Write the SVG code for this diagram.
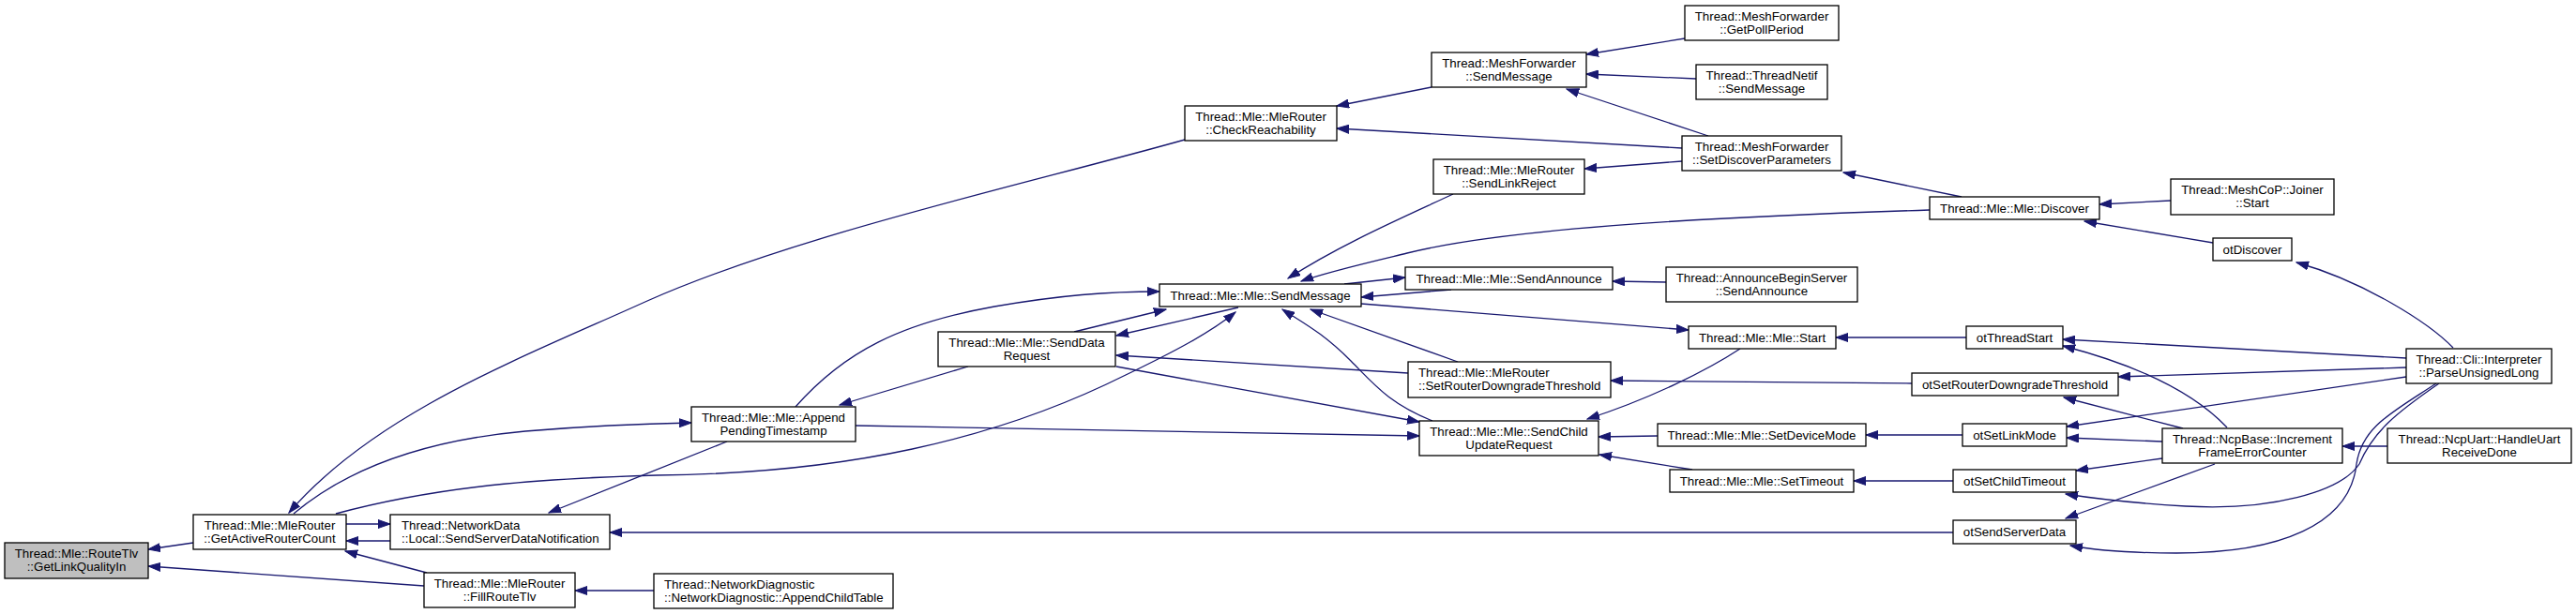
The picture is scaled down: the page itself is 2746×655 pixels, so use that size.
<svg xmlns="http://www.w3.org/2000/svg" width="2746" height="655" viewBox="0 0 2746 655">
<defs>
<marker id="a" markerUnits="userSpaceOnUse" markerWidth="14" markerHeight="10" refX="13" refY="5" viewBox="0 0 14 10" orient="auto">
<path d="M0,0.5 L13,5 L0,9.5 z" fill="#191970" stroke="#191970" stroke-width="1"/>
</marker>
<style>
.n rect{fill:#fff;stroke:#000;stroke-width:1.3}
.n.root rect{fill:#bfbfbf}
text{font-family:"Liberation Sans",Arial,Helvetica,sans-serif;font-size:13.3px;fill:#000}
.c{text-anchor:middle}
#edges path{fill:none;stroke:#191970;stroke-width:1.3;marker-end:url(#a)}
</style>
</defs>
<rect width="2746" height="655" fill="#fff"/>
<g id="edges">
<path d="M206,579 L158,586"/>
<path d="M452,625 L158,604"/>
<path d="M1263,149 C1100,195 850,250 690,321 C560,380 400,440 308,547"/>
<path d="M313,548 C370,500 450,470 560,460 C620,455 680,452 737,451"/>
<path d="M358,548 C480,515 600,510 700,507 C900,505 1060,470 1200,400 C1250,376 1290,355 1317,333"/>
<path d="M775,471 L585,547"/>
<path d="M369,559 L416,559"/>
<path d="M416,577 L369,577"/>
<path d="M455,611 L368,588"/>
<path d="M2082,568 L650,568"/>
<path d="M697,630 L613,630"/>
<path d="M848,434 C900,375 960,345 1060,327 C1130,315 1180,311 1236,311"/>
<path d="M1032,391 L895,432"/>
<path d="M1145,354 L1243,330"/>
<path d="M1320,328 L1190,358"/>
<path d="M1501,398 L1190,379"/>
<path d="M1190,391 L1513,450"/>
<path d="M912,454 L1513,465"/>
<path d="M1527,449 C1480,430 1465,410 1440,385 C1410,355 1390,345 1367,330"/>
<path d="M1554,386 L1397,330"/>
<path d="M1549,207 C1500,230 1430,260 1373,297"/>
<path d="M2057,224 C1800,232 1600,245 1500,270 C1450,282 1415,290 1387,300"/>
<path d="M1433,303 L1498,296"/>
<path d="M1547,309 L1451,317"/>
<path d="M1776,301 L1719,300"/>
<path d="M1451,324 L1800,352"/>
<path d="M1855,372 C1820,395 1760,425 1692,447"/>
<path d="M1767,465 L1704,466"/>
<path d="M1804,501 L1705,485"/>
<path d="M2096,360 L1957,360"/>
<path d="M2038,409 L1717,406"/>
<path d="M2092,464 L1989,464"/>
<path d="M2082,513 L1976,513"/>
<path d="M2565,382 L2199,362"/>
<path d="M2374,456 C2340,420 2280,390 2199,369"/>
<path d="M2565,392 L2258,402"/>
<path d="M2327,457 L2200,424"/>
<path d="M2565,402 L2203,455"/>
<path d="M2305,471 L2203,467"/>
<path d="M2305,489 L2213,502"/>
<path d="M2361,495 L2202,553"/>
<path d="M2600,409 C2555,440 2530,460 2515,495 C2495,525 2420,545 2330,540 C2280,537 2240,533 2202,527"/>
<path d="M2597,409 C2550,440 2518,455 2512,495 C2505,560 2430,590 2320,590 C2280,590 2240,588 2207,582"/>
<path d="M2545,476 L2497,476"/>
<path d="M2615,371 C2590,345 2520,300 2448,280"/>
<path d="M2314,214 L2238,218"/>
<path d="M2359,259 L2222,236"/>
<path d="M2091,210 L1965,184"/>
<path d="M1821,145 L1670,95"/>
<path d="M1793,158 L1425,137"/>
<path d="M1793,172 L1689,180"/>
<path d="M1526,93 L1425,113"/>
<path d="M1796,41 L1691,58"/>
<path d="M1808,84 L1691,79"/>
</g>
<g id="n1" class="n root"><rect x="5" y="579" width="153" height="38"/><text class="c" x="81.5" y="595">Thread::Mle::RouteTlv</text><text class="c" x="81.5" y="609">::GetLinkQualityIn</text></g>
<g id="n2" class="n"><rect x="206" y="549" width="163" height="37"/><text class="c" x="287.5" y="565">Thread::Mle::MleRouter</text><text class="c" x="287.5" y="579">::GetActiveRouterCount</text></g>
<g id="n3" class="n"><rect x="416" y="549" width="234" height="37"/><text x="428" y="565">Thread::NetworkData</text><text x="428" y="579">::Local::SendServerDataNotification</text></g>
<g id="n4" class="n"><rect x="452" y="611" width="161" height="37"/><text class="c" x="532.5" y="627">Thread::Mle::MleRouter</text><text class="c" x="532.5" y="641">::FillRouteTlv</text></g>
<g id="n5" class="n"><rect x="697" y="612" width="255" height="37"/><text x="708" y="628">Thread::NetworkDiagnostic</text><text x="708" y="642">::NetworkDiagnostic::AppendChildTable</text></g>
<g id="n6" class="n"><rect x="737" y="434" width="175" height="37"/><text class="c" x="824.5" y="450">Thread::Mle::Mle::Append</text><text class="c" x="824.5" y="464">PendingTimestamp</text></g>
<g id="n7" class="n"><rect x="1000" y="354" width="189" height="37"/><text class="c" x="1094.5" y="370">Thread::Mle::Mle::SendData</text><text class="c" x="1094.5" y="384">Request</text></g>
<g id="n8" class="n"><rect x="1263" y="113" width="162" height="37"/><text class="c" x="1344" y="129">Thread::Mle::MleRouter</text><text class="c" x="1344" y="143">::CheckReachability</text></g>
<g id="n9" class="n"><rect x="1236" y="303" width="215" height="24"/><text class="c" x="1343.5" y="320">Thread::Mle::Mle::SendMessage</text></g>
<g id="n10" class="n"><rect x="1526" y="56" width="165" height="37"/><text class="c" x="1608.5" y="72">Thread::MeshForwarder</text><text class="c" x="1608.5" y="86">::SendMessage</text></g>
<g id="n11" class="n"><rect x="1528" y="170" width="161" height="37"/><text class="c" x="1608.5" y="186">Thread::Mle::MleRouter</text><text class="c" x="1608.5" y="200">::SendLinkReject</text></g>
<g id="n12" class="n"><rect x="1498" y="285" width="221" height="24"/><text class="c" x="1608.5" y="302">Thread::Mle::Mle::SendAnnounce</text></g>
<g id="n13" class="n"><rect x="1501" y="386" width="216" height="38"/><text x="1512" y="402">Thread::Mle::MleRouter</text><text x="1512" y="416">::SetRouterDowngradeThreshold</text></g>
<g id="n14" class="n"><rect x="1513" y="449" width="191" height="37"/><text class="c" x="1608.5" y="465">Thread::Mle::Mle::SendChild</text><text class="c" x="1608.5" y="479">UpdateRequest</text></g>
<g id="n15" class="n"><rect x="1796" y="6" width="164" height="37"/><text class="c" x="1878" y="22">Thread::MeshForwarder</text><text class="c" x="1878" y="36">::GetPollPeriod</text></g>
<g id="n16" class="n"><rect x="1808" y="69" width="140" height="37"/><text class="c" x="1878" y="85">Thread::ThreadNetif</text><text class="c" x="1878" y="99">::SendMessage</text></g>
<g id="n17" class="n"><rect x="1793" y="145" width="170" height="37"/><text class="c" x="1878" y="161">Thread::MeshForwarder</text><text class="c" x="1878" y="175">::SetDiscoverParameters</text></g>
<g id="n18" class="n"><rect x="1776" y="285" width="204" height="37"/><text class="c" x="1878" y="301">Thread::AnnounceBeginServer</text><text class="c" x="1878" y="315">::SendAnnounce</text></g>
<g id="n19" class="n"><rect x="1800" y="348" width="157" height="24"/><text class="c" x="1878.5" y="365">Thread::Mle::Mle::Start</text></g>
<g id="n20" class="n"><rect x="1767" y="452" width="222" height="24"/><text class="c" x="1878" y="469">Thread::Mle::Mle::SetDeviceMode</text></g>
<g id="n21" class="n"><rect x="1780" y="501" width="196" height="24"/><text class="c" x="1878" y="518">Thread::Mle::Mle::SetTimeout</text></g>
<g id="n22" class="n"><rect x="2057" y="210" width="181" height="24"/><text class="c" x="2147.5" y="227">Thread::Mle::Mle::Discover</text></g>
<g id="n23" class="n"><rect x="2314" y="191" width="174" height="38"/><text class="c" x="2401" y="207">Thread::MeshCoP::Joiner</text><text class="c" x="2401" y="221">::Start</text></g>
<g id="n24" class="n"><rect x="2359" y="254" width="84" height="24"/><text class="c" x="2401" y="271">otDiscover</text></g>
<g id="n25" class="n"><rect x="2096" y="348" width="103" height="24"/><text class="c" x="2147.5" y="365">otThreadStart</text></g>
<g id="n26" class="n"><rect x="2038" y="398" width="220" height="24"/><text class="c" x="2148" y="415">otSetRouterDowngradeThreshold</text></g>
<g id="n27" class="n"><rect x="2092" y="452" width="111" height="24"/><text class="c" x="2147.5" y="469">otSetLinkMode</text></g>
<g id="n28" class="n"><rect x="2082" y="501" width="131" height="24"/><text class="c" x="2147.5" y="518">otSetChildTimeout</text></g>
<g id="n29" class="n"><rect x="2082" y="555" width="131" height="25"/><text class="c" x="2147.5" y="572">otSendServerData</text></g>
<g id="n30" class="n"><rect x="2305" y="457" width="192" height="37"/><text class="c" x="2401" y="473">Thread::NcpBase::Increment</text><text class="c" x="2401" y="487">FrameErrorCounter</text></g>
<g id="n31" class="n"><rect x="2565" y="372" width="155" height="37"/><text class="c" x="2642.5" y="388">Thread::Cli::Interpreter</text><text class="c" x="2642.5" y="402">::ParseUnsignedLong</text></g>
<g id="n32" class="n"><rect x="2545" y="457" width="196" height="37"/><text class="c" x="2643" y="473">Thread::NcpUart::HandleUart</text><text class="c" x="2643" y="487">ReceiveDone</text></g>
</svg>
